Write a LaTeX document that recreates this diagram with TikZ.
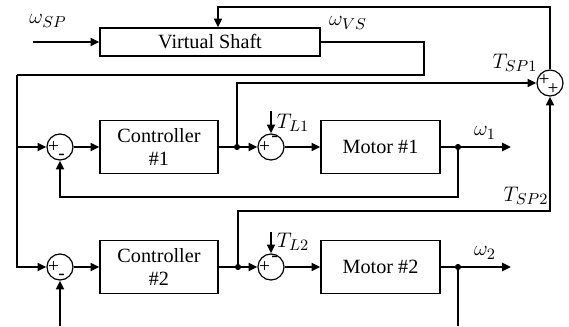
\documentclass[tikz,border=0pt]{standalone}
\usepackage{fontspec}
\setmainfont{Liberation Serif}
\usetikzlibrary{arrows.meta,positioning}

\tikzset{
  block/.style={draw=black, line width=0.7pt, minimum width=2.36cm, minimum height=1.06cm, align=center, inner sep=1pt},
  sumnode/.style={shape=circle, draw=black, line width=0.7pt, minimum size=0.52cm, inner sep=0pt},
  sig/.style={line width=1.3pt},
  sigarr/.style={sig, -{Triangle[length=5pt,width=4.5pt]}},
  jdot/.style={shape=circle, fill=black, inner sep=0pt, minimum size=3.5pt},
  sgn/.style={font=\fontsize{11}{11}\selectfont, inner sep=0pt},
  lbl/.style={inner sep=0pt, font=\fontsize{12.5}{14}\selectfont},
}

\begin{document}
\begin{tikzpicture}[x=0.02cm, y=-0.02cm, font=\fontsize{11.5}{13.5}\selectfont]
\useasboundingbox (0,0) rectangle (569,326);

% blocks
\node[block, minimum width=4.4cm, minimum height=0.56cm] (vs) at (210,42) {Virtual Shaft};
\node[block] (c1) at (159,147) {Controller\\\#1};
\node[block, minimum width=2.38cm] (m1) at (380.5,147) {Motor \#1};
\node[block] (c2) at (159,267) {Controller\\\#2};
\node[block, minimum width=2.38cm] (m2) at (380.5,267) {Motor \#2};

% summing points
\node[sumnode] (s1) at (60,147) {};
\node[sumnode] (l1) at (271,147) {};
\node[sumnode] (s2) at (60,267) {};
\node[sumnode] (l2) at (271,267) {};
\node[sumnode] (st) at (550,83) {};

\node[sgn, xshift=-0.13cm] at (s1) {+};
\node[sgn, xshift=0.03cm, yshift=-0.19cm] at (s1) {-};
\node[sgn, xshift=-0.13cm] at (l1) {+};
\node[sgn, xshift=0.07cm, yshift=0.16cm] at (l1) {-};
\node[sgn, xshift=-0.13cm] at (s2) {+};
\node[sgn, xshift=0.03cm, yshift=-0.19cm] at (s2) {-};
\node[sgn, xshift=-0.13cm] at (l2) {+};
\node[sgn, xshift=0.07cm, yshift=0.16cm] at (l2) {-};
\node[sgn, xshift=-0.12cm, yshift=0.06cm] at (st) {+};
\node[sgn, xshift=0.06cm, yshift=-0.12cm] at (st) {+};

% junctions
\node[jdot] (d1) at (237,147) {};
\node[jdot] (o1) at (458,147) {};
\node[jdot] (d2) at (238,267) {};
\node[jdot] (o2) at (458,267) {};

% free ends and corners
\coordinate (in) at (33,42);
\coordinate (fb) at (218,7);
\coordinate (vsr) at (424,42);
\coordinate (bus) at (17,75);
\coordinate (tl1) at (271,111);
\coordinate (tl2) at (271,232);
\coordinate (w1) at (511,147);
\coordinate (w2) at (511,267);
\coordinate (fb1) at (60,197);
\coordinate (tsp2) at (550,211);
\coordinate (bot1) at (60,326);
\coordinate (bot2) at (458,326);

% labels
\node[lbl] (lsp) at (48,21) {$\omega_{SP}$};
\node[lbl] (lvs) at (348,23) {$\omega_{VS}$};
\node[lbl] (ltsp1) at (515,63) {$T_{SP1}$};
\node[lbl] (ltsp2) at (526,196) {$T_{SP2}$};
\node[lbl] (ltl1) at (293,123) {$T_{L1}$};
\node[lbl] (ltl2) at (293,242) {$T_{L2}$};
\node[lbl] (lw1) at (485,133) {$\omega_{1}$};
\node[lbl] (lw2) at (485,253) {$\omega_{2}$};

% virtual shaft
\draw[sigarr] (in) -- (vs);
\draw[sigarr] (st) |- (fb) -- (fb |- vs.north);
\draw[sig] (vs.east) -- (vsr) |- (bus);
\draw[sigarr] (bus) |- (s2);
\draw[sigarr] (bus |- s1) -- (s1);

% motor 1
\draw[sigarr] (s1) -- (c1);
\draw[sig] (c1) -- (d1);
\draw[sigarr] (d1) -- (l1);
\draw[sigarr] (tl1) -- (l1);
\draw[sigarr] (l1) -- (m1);
\draw[sig] (m1) -- (o1);
\draw[sigarr] (o1) -- (w1);
\draw[sigarr] (o1) |- (fb1) -- (s1);
\draw[sigarr] (d1) |- (st);

% motor 2
\draw[sigarr] (s2) -- (c2);
\draw[sig] (c2) -- (d2);
\draw[sigarr] (d2) -- (l2);
\draw[sigarr] (tl2) -- (l2);
\draw[sigarr] (l2) -- (m2);
\draw[sig] (m2) -- (o2);
\draw[sigarr] (o2) -- (w2);
\draw[sig] (o2) -- (bot2);
\draw[sigarr] (bot1) -- (s2);
\draw[sigarr] (d2) |- (tsp2) -- (st);

\end{tikzpicture}
\end{document}
